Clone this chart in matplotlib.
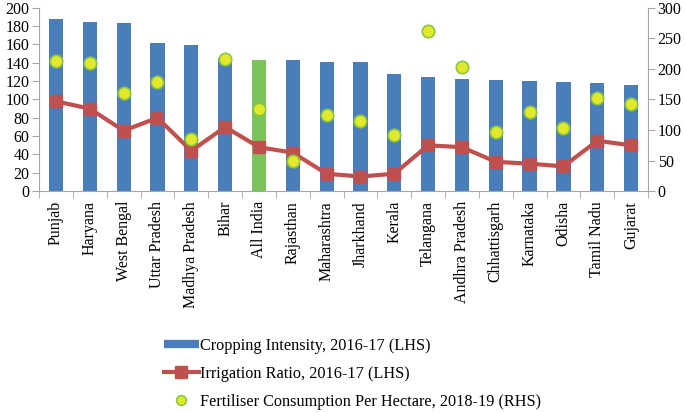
import matplotlib
matplotlib.use('Agg')
import matplotlib.pyplot as plt
from matplotlib.lines import Line2D
import numpy as np

plt.rcParams['font.family'] = ['Liberation Serif', 'DejaVu Serif']

estados = ['Punjab', 'Haryana', 'West Bengal', 'Uttar Pradesh', 'Madhya Pradesh', 'Bihar',
           'All India', 'Rajasthan', 'Maharashtra', 'Jharkhand', 'Kerala', 'Telangana',
           'Andhra Pradesh', 'Chhattisgarh', 'Karnataka', 'Odisha', 'Tamil Nadu', 'Gujarat']
intensidad = [188, 184, 183, 162, 159, 145, 143, 143, 141, 141, 128, 125, 122, 121, 120, 119, 118, 116]
riego = [98, 90, 66, 80, 44, 70, 48, 42, 19, 16, 19, 50, 48, 32, 30, 27, 55, 50]
fertilizante = [213, 210, 160, 178, 85, 216, 134, 49, 125, 114, 92, 262, 203, 96, 130, 104, 153, 143]

azul = '#4a7ebb'
verde_bar = '#7dc35b'
rojo = '#c0504d'
gris = '#a6a6a6'
amarillo = '#e2e82c'
borde = '#8cc63f'

fig = plt.figure(figsize=(6.85, 4.12), dpi=100)
ax = fig.add_axes([0.057, 0.536, 0.889, 0.445])
x = np.arange(len(estados))
colores = [verde_bar if e == 'All India' else azul for e in estados]
ax.bar(x, intensidad, width=0.42, color=colores, zorder=2)
ax.plot(x, riego, color=rojo, lw=3, marker='s', ms=9, zorder=3)
ax.set_ylim(0, 200)
ax.set_yticks(range(0, 201, 20))
ax.set_xlim(-0.5, len(estados) - 0.5)
ax.set_xticks(x)
ax.set_xticklabels(estados, rotation=90)
ax.set_xticks(np.arange(-0.5, len(estados), 1), minor=True)
ax.tick_params(axis='x', which='major', length=0, pad=7)
ax.tick_params(axis='x', which='minor', length=5, color=gris)
ax.tick_params(axis='y', length=5, color=gris, pad=2)
ax.tick_params(labelsize=11.5)
for s in ['top', 'right']:
    ax.spines[s].set_visible(False)
ax.spines['left'].set_color(gris)
ax.spines['bottom'].set_color(gris)

ax2 = ax.twinx()
ax2.scatter(x, fertilizante, s=80, color=amarillo, edgecolor=borde, lw=1.2, zorder=4)
ax2.set_ylim(0, 300)
ax2.set_yticks(range(0, 301, 50))
ax2.tick_params(axis='y', length=5, color=gris, labelsize=11.5, pad=2)
for s in ['top', 'left', 'bottom']:
    ax2.spines[s].set_visible(False)
ax2.spines['right'].set_color(gris)

# leyenda con handles propios
h1 = Line2D([], [], color=azul, lw=6, solid_capstyle='butt')
h2 = Line2D([], [], color=rojo, lw=3, marker='s', ms=8)
h3 = Line2D([], [], color='none', marker='o', ms=7, markerfacecolor=amarillo,
            markeredgecolor=borde, markeredgewidth=1.2)
fig.legend([h1, h2, h3],
           ['Cropping Intensity, 2016-17 (LHS)', 'Irrigation Ratio, 2016-17 (LHS)',
            'Fertiliser Consumption Per Hectare, 2018-19 (RHS)'],
           loc='upper left', bbox_to_anchor=(0.24, 0.18), frameon=False,
           fontsize=11.7, handlelength=2.1, handletextpad=0.1, labelspacing=0.74,
           borderpad=0, borderaxespad=0)

plt.savefig('out.png', dpi=100)
